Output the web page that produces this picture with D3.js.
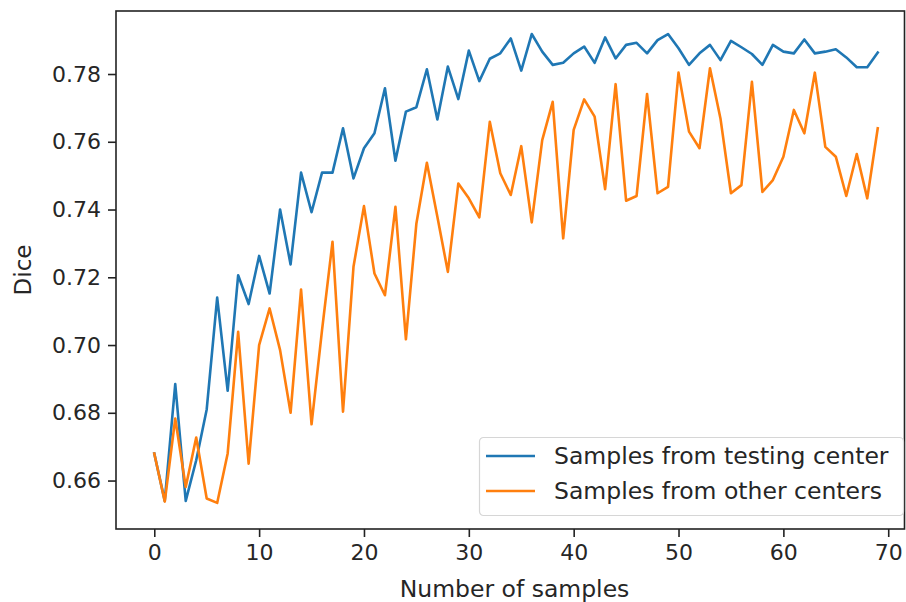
<!DOCTYPE html>
<html lang="en">
  <head>
    <meta charset="utf-8">
    <title>Dice vs number of samples</title>
    <script src="https://cdnjs.cloudflare.com/ajax/libs/d3/7.8.5/d3.min.js"></script>
    <style>
      html, body {
        margin: 0;
        padding: 0;
        background: #fff;
      }
      svg text {
        font-family: "DejaVu Sans", sans-serif;
        fill: #262626;
      }
      .line {
        fill: none;
        stroke-width: 2.6px;
        stroke-linejoin: round;
        stroke-linecap: square;
      }
    </style>
  </head>
  <body>
    <div id="vis"></div>
<script>
    // values, index = number of samples
    var samples = d3.range(0, 70);

    var testingCenter = [
        0.668, 0.654, 0.6885, 0.654, 0.666, 0.681, 0.714, 0.6865, 0.7206, 0.7121,
        0.7263, 0.7152, 0.740, 0.7238, 0.7509, 0.7392, 0.7509, 0.7509, 0.764, 0.7492,
        0.7581, 0.7625, 0.7758, 0.7544, 0.7689, 0.7702, 0.7814, 0.7666, 0.7822, 0.7726,
        0.7869, 0.7779, 0.7845, 0.7861, 0.7905, 0.781, 0.7918, 0.7866, 0.7827, 0.7833,
        0.7861, 0.7881, 0.7833, 0.7908, 0.7846, 0.7886, 0.7892, 0.7861, 0.790, 0.7918,
        0.7876, 0.7827, 0.7861, 0.7886, 0.7841, 0.7898, 0.7879, 0.7859, 0.7827, 0.7886,
        0.7866, 0.7861, 0.7902, 0.7861, 0.7866, 0.7873, 0.7849, 0.782, 0.782, 0.7863
    ];

    var otherCenters = [
        0.668, 0.6538, 0.6783, 0.6581, 0.6727, 0.6547, 0.6534, 0.668, 0.7039, 0.665,
        0.700, 0.7108, 0.6985, 0.680, 0.7164, 0.6766, 0.7044, 0.7305, 0.6803, 0.7231,
        0.741, 0.7211, 0.7147, 0.7408, 0.7017, 0.7359, 0.7538, 0.7379, 0.7216, 0.7477,
        0.7433, 0.7377, 0.7659, 0.7507, 0.7443, 0.7587, 0.7362, 0.7605, 0.7718, 0.7315,
        0.7635, 0.7725, 0.7674, 0.746, 0.777, 0.7426, 0.744, 0.7741, 0.7448, 0.7467,
        0.7804, 0.763, 0.7581, 0.7817, 0.7669, 0.7448, 0.7472, 0.7777, 0.7452, 0.7487,
        0.7556, 0.7694, 0.7625, 0.7804, 0.7585, 0.7556, 0.744, 0.7564, 0.7433, 0.764
    ];

    var seriesNames = ['Samples from testing center', 'Samples from other centers'];
    var seriesColors = ['#1f77b4', '#ff7f0e'];

    var xTicks = [0, 10, 20, 30, 40, 50, 60, 70];
    var yTicks = [0.66, 0.68, 0.70, 0.72, 0.74, 0.76, 0.78];

    var width = 906;
    var height = 602;

    var margin = {
        top: 11,
        bottom: 73,
        left: 116,
        right: 1
    };

    var svg = d3.select('#vis')
        .append('svg')
        .attr('width', width)
        .attr('height', height)
        .style('display', 'block');

    var g = svg.append('g')
        .attr('transform', 'translate(' + margin.left + ',' + margin.top + ')');

    width = width - margin.left - margin.right;
    height = height - margin.top - margin.bottom;

    var x_scale = d3.scaleLinear()
        .domain([-3.65, 71.6])
        .range([0, width]);

    var y_scale = d3.scaleLinear()
        .domain([0.6457, 0.7986])
        .range([height, 0]);

    var line = d3.line()
        .x(function(d, i) { return x_scale(samples[i]); })
        .y(function(d) { return y_scale(d); });

    var x_axis = d3.axisBottom(x_scale)
        .tickValues(xTicks)
        .tickFormat(d3.format('d'))
        .tickSize(8)
        .tickSizeOuter(0)
        .tickPadding(7);

    var y_axis = d3.axisLeft(y_scale)
        .tickValues(yTicks)
        .tickFormat(d3.format('.2f'))
        .tickSize(8)
        .tickSizeOuter(0)
        .tickPadding(7);

    var gx = g.append('g')
        .attr('transform', 'translate(0,' + height + ')')
        .call(x_axis);

    var gy = g.append('g')
        .call(y_axis);

    [gx, gy].forEach(function(ax) {
        ax.select('.domain').remove();
        ax.selectAll('line').attr('stroke', '#222').attr('stroke-width', 1.6);
        ax.selectAll('text')
            .attr('fill', '#262626')
            .style('font-size', '22px')
            .style('font-family', '"DejaVu Sans", sans-serif');
    });

    // the two series
    g.selectAll('.line')
        .data([testingCenter, otherCenters])
        .enter()
        .append('path')
        .attr('class', 'line')
        .attr('stroke', function(d, i) { return seriesColors[i]; })
        .attr('d', line);

    // frame
    g.append('rect')
        .attr('x', 0)
        .attr('y', 0)
        .attr('width', width - 0.5)
        .attr('height', height)
        .attr('fill', 'none')
        .attr('stroke', '#222')
        .attr('stroke-width', 1.6);

    // legend, lower right
    var legend = g.append('g')
        .attr('transform', 'translate(' + (width - 426) + ',' + (height - 92) + ')');

    legend.append('rect')
        .attr('x', 0.5)
        .attr('y', 0.5)
        .attr('width', 424)
        .attr('height', 78)
        .attr('rx', 4)
        .attr('fill', 'white')
        .attr('fill-opacity', 0.8)
        .attr('stroke', '#d6d6d6')
        .attr('stroke-width', 1.2);

    var items = legend.selectAll('.item')
        .data(seriesNames)
        .enter()
        .append('g')
        .attr('class', 'item')
        .attr('transform', function(d, i) { return 'translate(0,' + (19 + i * 35) + ')'; });

    items.append('line')
        .attr('x1', 7)
        .attr('x2', 56)
        .attr('stroke', function(d, i) { return seriesColors[i]; })
        .attr('stroke-width', 2.6);

    items.append('text')
        .attr('x', 75)
        .attr('dy', '0.35em')
        .style('font-size', '23.5px')
        .text(function(d) { return d; });

    // axis titles
    g.append('text')
        .attr('x', width / 2 + 4)
        .attr('y', height + 68)
        .attr('text-anchor', 'middle')
        .style('font-size', '23.5px')
        .text('Number of samples');

    g.append('text')
        .attr('transform', 'translate(' + (31 - margin.left) + ',' + (height / 2) + ') rotate(-90)')
        .attr('text-anchor', 'middle')
        .style('font-size', '23px')
        .text('Dice');
</script>
  </body>
</html>
